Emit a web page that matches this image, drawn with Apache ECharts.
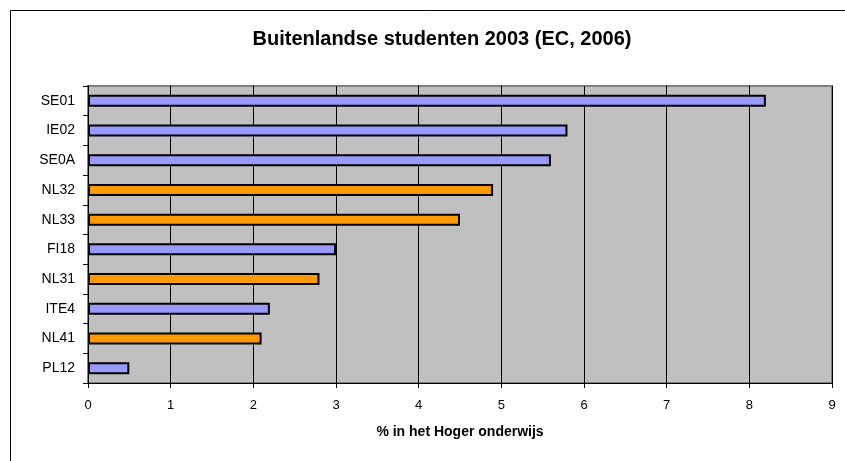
<!DOCTYPE html>
<html><head><meta charset="utf-8">
<script src="https://cdn.jsdelivr.net/npm/echarts@6/dist/echarts.min.js"></script>
<style>html,body{margin:0;padding:0;background:#fff}#c{width:845px;height:461px}</style>
</head><body><div id="c"></div>
<script>
var categories = ["SE01","IE02","SE0A","NL32","NL33","FI18","NL31","ITE4","NL41","PL12"];
var values = [8.2,5.8,5.6,4.9,4.5,3.0,2.8,2.2,2.1,0.5];
var isDutch = [false,false,false,true,true,false,true,false,true,false];
var xTicks = [0,1,2,3,4,5,6,7,8,9];

var chart = echarts.init(document.getElementById('c'));
var font = 'Liberation Sans, Arial, sans-serif';
chart.setOption({
  animation:false,
  graphic:[{type:'rect',shape:{x:10.5,y:10.5,width:900,height:500},style:{fill:'none',stroke:'#000',lineWidth:1}}],
  title:{text:'Buitenlandse studenten 2003 (EC, 2006)',left:437,textAlign:'center',top:24,
    textStyle:{fontFamily:font,fontSize:20,fontWeight:'bold',color:'#000'}},
  grid:{left:88,right:13,top:86,bottom:78,show:true,backgroundColor:'#C0C0C0',borderColor:'#808080',borderWidth:2},
  xAxis:{type:'value',min:xTicks[0],max:xTicks[xTicks.length-1],interval:1,
    name:'% in het Hoger onderwijs',nameLocation:'middle',nameGap:42,
    nameTextStyle:{fontFamily:font,fontSize:14,fontWeight:'bold',color:'#000'},
    axisLine:{show:true,lineStyle:{color:'#000',width:1}},
    axisTick:{show:true,length:5,lineStyle:{color:'#000'}},
    axisLabel:{fontFamily:font,fontSize:13,color:'#000',margin:16},
    splitLine:{show:true,lineStyle:{color:'#000',width:1}}},
  yAxis:{type:'category',data:categories,inverse:true,
    axisLine:{show:true,lineStyle:{color:'#000',width:1}},
    axisTick:{show:true,length:5,lineStyle:{color:'#000'}},
    axisLabel:{fontFamily:font,fontSize:14,color:'#000',margin:13}},
  series:[{type:'bar',barWidth:12,
    data:values.map(function(v,i){return {value:v,itemStyle:{color:isDutch[i]?'#FF9900':'#9999FF'}};}),
    itemStyle:{borderColor:'#000',borderWidth:2}}]
});
</script></body></html>
